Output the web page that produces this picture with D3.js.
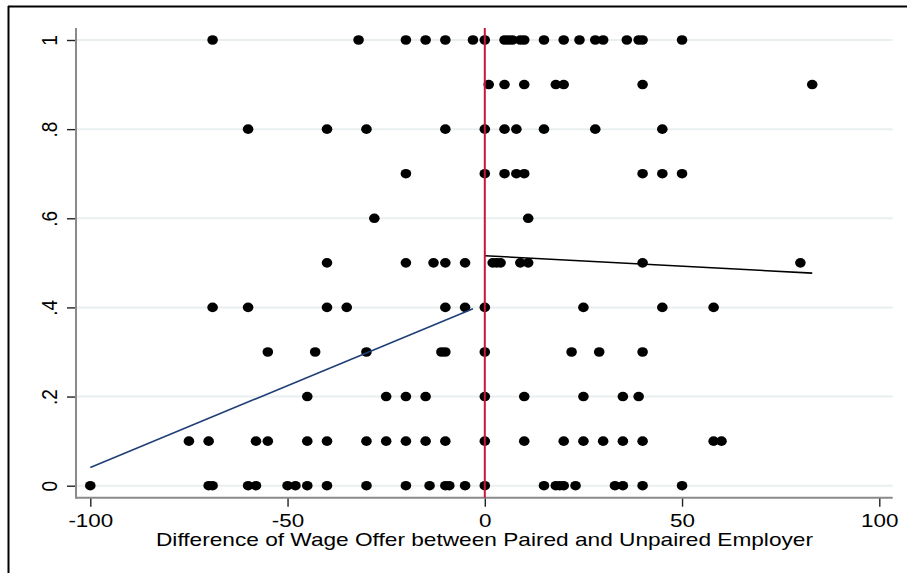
<!DOCTYPE html>
<html>
<head>
<meta charset="utf-8">
<script src="https://cdn.jsdelivr.net/npm/d3@7"></script>
<style>
  html, body { margin: 0; padding: 0; background: #ffffff; }
  svg { display: block; }
  text { font-family: "Liberation Sans", Arial, sans-serif; fill: #000; }
</style>
</head>
<body>
<svg id="chart" width="907" height="573"></svg>
<script>
// Wage-offer difference (x) observed at each share level (y)
const shareLevels = [1, 0.9, 0.8, 0.7, 0.6, 0.5, 0.4, 0.3, 0.2, 0.1, 0];
const diffAt100 = [-69, -32, -20, -15, -10, -3, 0, 5, 6, 7, 9, 10, 15, 20, 24, 28, 30, 36, 39, 40, 50];
const diffAt090 = [1, 5, 10, 18, 20, 40, 83];
const diffAt080 = [-60, -40, -30, -10, 0, 5, 8, 15, 28, 45];
const diffAt070 = [-20, 0, 5, 8, 10, 40, 45, 50];
const diffAt060 = [-28, 11];
const diffAt050 = [-40, -20, -13, -10, -5, 2, 3, 4, 9, 11, 40, 80];
const diffAt040 = [-69, -60, -40, -35, -10, -5, 0, 25, 45, 58];
const diffAt030 = [-55, -43, -30, -11, -10, 0, 22, 29, 40];
const diffAt020 = [-45, -25, -20, -15, 0, 10, 25, 35, 39];
const diffAt010 = [-75, -70, -58, -55, -45, -40, -30, -25, -20, -15, -10, 0, 10, 20, 25, 30, 35, 40, 58, 60];
const diffAt000 = [-100, -70, -69, -60, -58, -50, -48, -45, -40, -30, -20, -14, -10, -9, -5, 0, 15, 18, 19, 20, 23, 33, 35, 40, 50];
const diffRows = [diffAt100, diffAt090, diffAt080, diffAt070, diffAt060, diffAt050,
                  diffAt040, diffAt030, diffAt020, diffAt010, diffAt000];

// Linear fits on each side of the cutoff
const fitLeftX = [-100, -3];
const fitLeftY = [0.041, 0.397];
const fitRightX = [0, 83];
const fitRightY = [0.516, 0.477];

const xTicks = [-100, -50, 0, 50, 100];
const yTicks = [0, 0.2, 0.4, 0.6, 0.8, 1];
const yTickLabels = ["0", ".2", ".4", ".6", ".8", "1"];
const xTitle = "Difference of Wage Offer between Paired and Unpaired Employer";
const cutoff = 0;

const points = [];
diffRows.forEach((row, i) => row.forEach(d => points.push({ x: d, y: shareLevels[i] })));

const svg = d3.select("#chart");
const x = d3.scaleLinear().domain([-100, 100]).range([90.3, 879.3]);
const y = d3.scaleLinear().domain([0, 1]).range([485.7, 40]);

const stretch = 1.18;           // horizontal text stretch
const fontSize = 19;
const axisLeftX = 76, axisBottomY = 497.7, axisTopY = 28, axisRightX = 892.7;

// outer frame (top and left edges)
svg.append("line").attr("x1", 8).attr("x2", 907).attr("y1", 6.5).attr("y2", 6.5)
  .attr("stroke", "#000").attr("stroke-width", 2);
svg.append("line").attr("x1", 8.5).attr("x2", 8.5).attr("y1", 6).attr("y2", 573)
  .attr("stroke", "#000").attr("stroke-width", 2);

// horizontal grid
svg.append("g").selectAll("line").data(yTicks).join("line")
  .attr("x1", axisLeftX + 1).attr("x2", axisRightX)
  .attr("y1", d => y(d)).attr("y2", d => y(d))
  .attr("stroke", "#e9eff0").attr("stroke-width", 2);

// y axis ticks and labels
const gy = svg.append("g").attr("transform", `translate(${axisLeftX},0)`)
  .call(d3.axisLeft(y).tickValues(yTicks).tickSize(9).tickSizeOuter(0)
    .tickFormat((d, i) => yTickLabels[i]));
gy.select(".domain").remove();
gy.selectAll(".tick line").attr("stroke", "#222").attr("stroke-width", 1.4);
gy.selectAll(".tick text")
  .attr("x", null).attr("dy", null).attr("y", null)
  .attr("text-anchor", "middle")
  .style("font-size", fontSize + "px")
  .attr("transform", `translate(-19,0) scale(${stretch},1) rotate(-90)`);

// x axis ticks and labels
const gx = svg.append("g").attr("transform", `translate(0,${axisBottomY})`)
  .call(d3.axisBottom(x).tickValues(xTicks).tickSize(9).tickSizeOuter(0)
    .tickFormat(d3.format("d")));
gx.select(".domain").remove();
gx.selectAll(".tick line").attr("stroke", "#222").attr("stroke-width", 1.4);
gx.selectAll(".tick text")
  .attr("y", null).attr("dy", null)
  .attr("text-anchor", "middle")
  .style("font-size", fontSize + "px")
  .attr("transform", `translate(0,29) scale(${stretch},1)`);
gx.selectAll(".tick text").text(d => d3.format("d")(d).replace("\u2212", "-"));

// axis lines
svg.append("line").attr("x1", axisLeftX).attr("x2", axisLeftX)
  .attr("y1", axisTopY).attr("y2", axisBottomY + 1)
  .attr("stroke", "#8a8a8a").attr("stroke-width", 2);
svg.append("line").attr("x1", axisLeftX).attr("x2", axisRightX)
  .attr("y1", axisBottomY).attr("y2", axisBottomY)
  .attr("stroke", "#8a8a8a").attr("stroke-width", 2);

// x title
svg.append("text")
  .attr("x", 484.5).attr("y", 546)
  .attr("text-anchor", "middle")
  .style("font-size", fontSize + "px")
  .attr("textLength", 657).attr("lengthAdjust", "spacingAndGlyphs")
  .text(xTitle);

// scatter points
svg.append("g").selectAll("ellipse").data(points).join("ellipse")
  .attr("cx", d => x(d.x)).attr("cy", d => y(d.y))
  .attr("rx", 5.3).attr("ry", 4.8)
  .attr("fill", "#000");

// fitted lines
const line = d3.line().x(d => x(d[0])).y(d => y(d[1]));
svg.append("path").datum(d3.zip(fitLeftX, fitLeftY))
  .attr("d", line).attr("fill", "none").attr("stroke", "#1f3f78").attr("stroke-width", 1.6);
svg.append("path").datum(d3.zip(fitRightX, fitRightY))
  .attr("d", line).attr("fill", "none").attr("stroke", "#000").attr("stroke-width", 1.6);

// cutoff line
svg.append("line").attr("x1", x(cutoff)).attr("x2", x(cutoff))
  .attr("y1", axisTopY).attr("y2", axisBottomY)
  .attr("stroke", "#c8173c").attr("stroke-width", 2);
</script>
</body>
</html>
